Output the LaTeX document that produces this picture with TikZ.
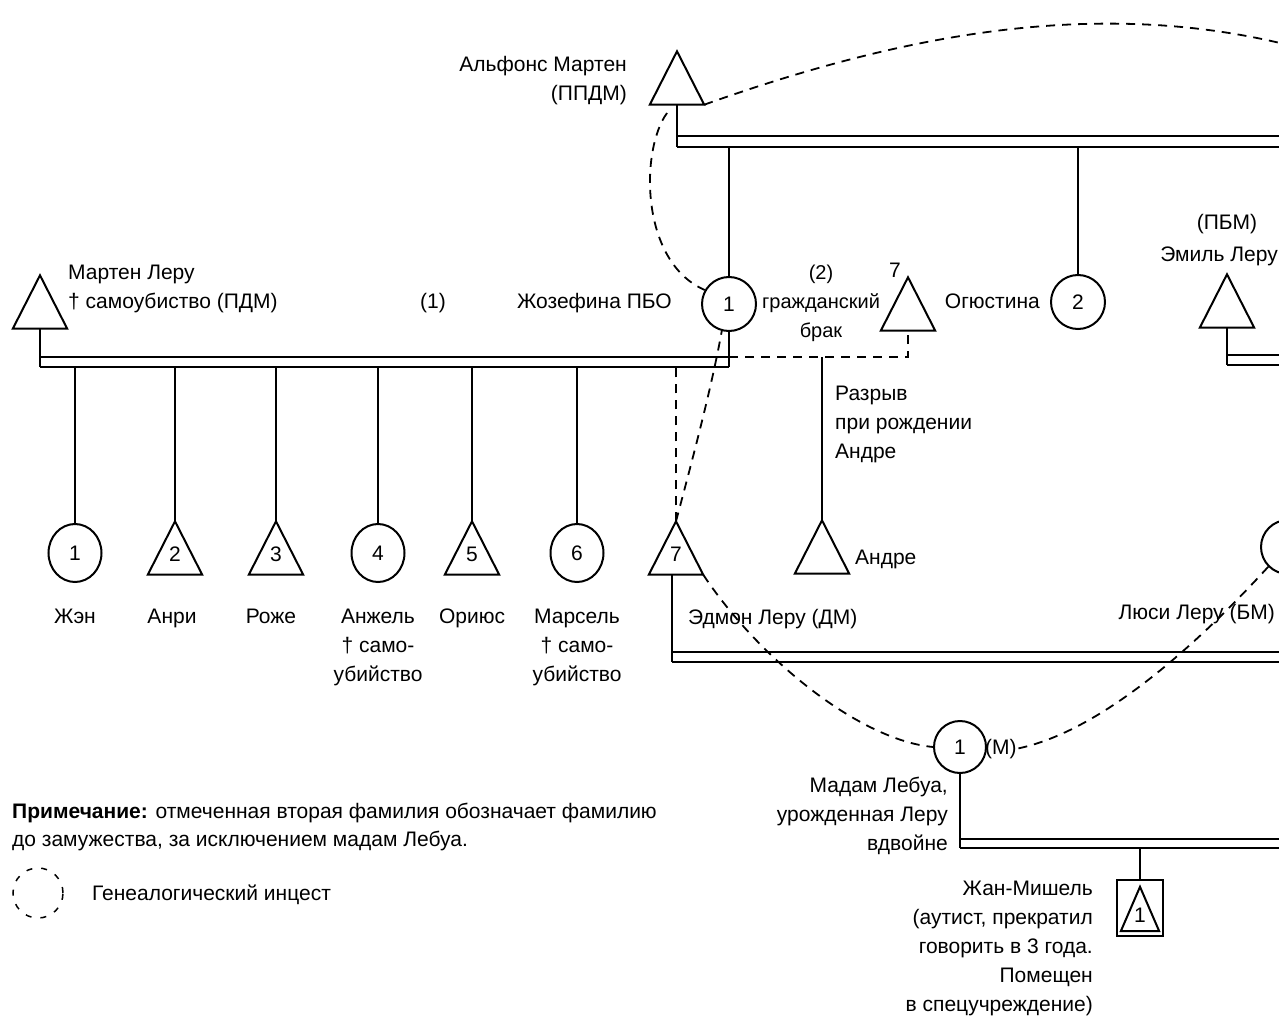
\documentclass[tikz,border=0pt]{standalone}
\usepackage{fontspec}
\setmainfont{Liberation Sans}
\usetikzlibrary{shapes.geometric}
\begin{document}
\begin{tikzpicture}[x=1pt,y=-1pt,
  every node/.style={inner sep=0pt,font=\fontsize{21}{29}\selectfont},
  fem/.style={draw,circle,line width=2pt,minimum size=54pt},
  kid/.style={draw,ellipse,line width=2pt,minimum width=53pt,minimum height=58pt},
  tri/.style={minimum width=54pt,minimum height=53pt,text height=26pt,text depth=0pt},
  trib/.style={line width=2pt,line join=miter},
  stem/.style={line width=1.7pt},
  bart/.style={line width=2.5pt},
  barb/.style={line width=1.4pt},
  inc/.style={line width=1.8pt,dash pattern=on 9pt off 7pt},
  txtl/.style={anchor=north west,align=left},
  txtr/.style={anchor=north east,align=right},
  txtc/.style={anchor=north,align=center},
]
\fill[white] (0,0) rectangle (1279,1019);
\useasboundingbox (0,0) rectangle (1279,1019);
\clip (0,0) rectangle (1279,1019);

% ---------- persons ----------
\node[tri] (am) at (677,78) {};
\node[tri] (ml) at (40,302) {};
\node[fem] (jos) at (729,304) {1};
\node[tri] (t7) at (908,304) {};
\node[fem] (og) at (1078,302) {2};
\node[tri] (em) at (1227,301) {};
\node[fem] (lu) at (1288,547) {};
\node[kid] (c1) at (75,553) {1};
\node[tri] (c2) at (175,548) {2};
\node[tri] (c3) at (276,548) {3};
\node[kid] (c4) at (378,553) {4};
\node[tri] (c5) at (472,548) {5};
\node[kid] (c6) at (577,553) {6};
\node[tri] (c7) at (676,548) {7};
\node[tri] (an) at (822,547) {};
\node[fem,minimum size=52pt] (mm) at (960,747) {1};
\node[draw,line width=1.7pt,minimum width=46pt,minimum height=56pt] (jm) at (1140,908) {};
\node[tri,minimum width=38pt,minimum height=44pt] (jmt) at (1140,909) {1};
\node[draw,circle,minimum size=50pt,line width=1.5pt,dash pattern=on 6pt off 9pt] (leg) at (38,893) {};

\foreach \n in {am,ml,t7,em,c2,c3,c5,c7,an,jmt}
  \draw[trib] (\n.north) -- (\n.south west) -- (\n.south east) -- cycle;

% ---------- bar of Alphonse Marten ----------
\coordinate (a1) at (677,136); \coordinate (a2) at (677,147);
\coordinate (a3) at (1300,136); \coordinate (a4) at (1300,147);
\draw[stem] (am.south) -- (a2);
\draw[bart] (a1) -- (a3); \draw[barb] (a2) -- (a4);
\draw[stem] (jos.north) -- (jos.north |- a2);
\draw[stem] (og.north) -- (og.north |- a2);

% ---------- bar of Marten Lerou ----------
\coordinate (m1) at (40,357); \coordinate (m2) at (40,367);
\coordinate (m3) at (729,357); \coordinate (m4) at (729,367);
\draw[stem] (ml.south) -- (m2);
\draw[bart] (m1) -- (m3); \draw[barb] (m2) -- (m4);
\draw[stem] (jos.south) -- (m4);
\foreach \n in {c1,c2,c3,c4,c5,c6}
  \draw[stem] (\n.north) -- (\n.north |- m2);
\draw[inc] (c7.north) -- (c7.north |- m2);
\draw[inc] (m3) -- (t7.south |- m3) -- (t7.south);
\draw[stem] (an.north) -- (an.north |- m3);

% ---------- bar of Emile Lerou ----------
\coordinate (e1) at (1227,355); \coordinate (e2) at (1227,365);
\coordinate (e3) at (1300,355); \coordinate (e4) at (1300,365);
\draw[stem] (em.south) -- (e2);
\draw[bart] (e1) -- (e3); \draw[barb] (e2) -- (e4);

% ---------- bar of Edmond / Lucie ----------
\coordinate (d1) at (672,652); \coordinate (d2) at (672,662);
\coordinate (d3) at (1300,652); \coordinate (d4) at (1300,662);
\draw[stem] (c7.south -| d2) -- (d2);
\draw[bart] (d1) -- (d3); \draw[barb] (d2) -- (d4);

% ---------- bar of Madame Lebois ----------
\coordinate (k1) at (960,839); \coordinate (k2) at (960,848);
\coordinate (k3) at (1300,839); \coordinate (k4) at (1300,848);
\draw[stem] (mm.south) -- (k2);
\draw[bart] (k1) -- (k3); \draw[barb] (k2) -- (k4);
\draw[stem] (jm.north) -- (jm.north |- k2);

% ---------- texts ----------
\node[txtr] (tam) at (627,51) {\strut Альфонс Мартен\\(ППДМ)};
\node[txtl] (tml) at (68,259) {\strut Мартен Леру\\† самоубиство (ПДМ)};
\node[txtc] (t1) at (433,288) {\strut (1)};
\node[txtr] (tjos) at (672,288) {\strut Жозефина ПБО};
\node[txtc,font=\fontsize{20}{29}\selectfont] (t2) at (821,259) {\strut (2)\\гражданский\\брак};
\node[txtc] (t7l) at (895,257) {\strut 7};
\node[txtr] (tog) at (1040,288) {\strut Огюстина};
\node[txtc] (tpbm) at (1227,209) {\strut (ПБМ)};
\node[txtr] (tem) at (1278,241) {\strut Эмиль Леру};
\node[txtl] (trz) at (835,380) {\strut Разрыв\\при рождении\\Андре};
\node[txtl] (tan) at (855,544) {\strut Андре};
\node[txtc] (tc1) at (75,603) {\strut Жэн};
\node[txtc] (tc2) at (172,603) {\strut Анри};
\node[txtc] (tc3) at (271,603) {\strut Роже};
\node[txtc] (tc4) at (378,603) {\strut Анжель\\† само-\\убийство};
\node[txtc] (tc5) at (472,603) {\strut Ориюс};
\node[txtc] (tc6) at (577,603) {\strut Марсель\\† само-\\убийство};
\node[txtl] (ted) at (688,604) {\strut Эдмон Леру (ДМ)};
\node[txtr] (tlu) at (1275,599) {\strut Люси Леру (БМ)};
\node[txtl] (mlab) at (985,734) {\strut (М)};
\node[txtr] (tmm) at (948,772) {\strut Мадам Лебуа,\\урожденная Леру\\вдвойне};
\node[txtr] (tjm) at (1093,875) {\strut Жан-Мишель\\(аутист, прекратил\\говорить в 3 года.\\Помещен\\в спецучреждение)};
\node[txtl,font=\fontsize{21}{28}\selectfont] (note) at (12,799) {\strut\textbf{Примечание:} отмеченная вторая фамилия обозначает фамилию\\до замужества, за исключением мадам Лебуа.};
\node[txtl] (tleg) at (92,880) {\strut Генеалогический инцест};

% ---------- incest lines ----------
\coordinate (amx) at (667,113);
\draw[inc] (am.south east) .. controls (900,35) and (1100,-5) .. (1300,48);
\draw[inc] (amx) .. controls (640,150) and (640,262) .. (jos.150);
\draw[inc] (c7.north) .. controls (695,450) and (712,385) .. (jos.255);
\draw[inc] (c7.south east) .. controls (760,660) and (860,740) .. (mm.west);
\draw[inc] (lu.225) .. controls (1215,625) and (1110,730) .. (mlab.east);
\end{tikzpicture}
\end{document}
